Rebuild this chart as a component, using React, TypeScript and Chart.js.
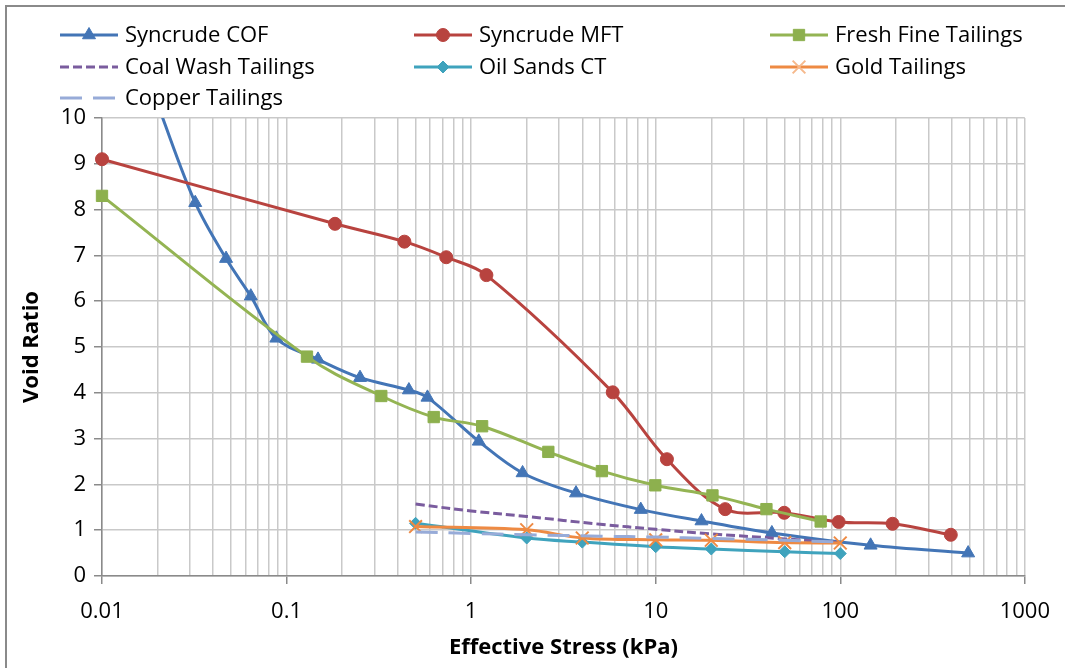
import React, { useEffect, useRef } from 'react';
import { Chart, registerables } from 'chart.js';
import { drawPoint } from 'chart.js/helpers';

Chart.register(...registerables);

// ---- Data (Effective stress in kPa, void ratio) ----
const cofStress = [0.02, 0.032, 0.047, 0.064, 0.088, 0.148, 0.25, 0.46, 0.58, 1.1, 1.9, 3.7, 8.3, 17.7, 42.6, 146, 493];
const cofVoid = [10.3, 8.15, 6.93, 6.11, 5.19, 4.73, 4.33, 4.06, 3.9, 2.94, 2.25, 1.81, 1.45, 1.2, 0.94, 0.67, 0.5];

const mftStress = [0.01, 0.183, 0.435, 0.733, 1.21, 5.85, 11.5, 23.8, 49.7, 98, 192, 397];
const mftVoid = [9.1, 7.69, 7.3, 6.96, 6.57, 4.01, 2.55, 1.46, 1.38, 1.18, 1.14, 0.9];

const fftStress = [0.01, 0.129, 0.326, 0.627, 1.147, 2.62, 5.11, 9.95, 20.3, 39.8, 78.3];
const fftVoid = [8.3, 4.79, 3.93, 3.47, 3.27, 2.71, 2.29, 1.98, 1.76, 1.46, 1.19];

const coalStress = [0.5, 1, 2, 5, 10, 20, 50, 100];
const coalVoid = [1.57, 1.42, 1.3, 1.13, 1.02, 0.92, 0.81, 0.73];

const ctStress = [0.5, 2, 4, 10, 20, 50, 100];
const ctVoid = [1.15, 0.83, 0.74, 0.64, 0.59, 0.53, 0.49];

const goldStress = [0.5, 2, 4, 10, 20, 50, 100];
const goldVoid = [1.08, 1.01, 0.83, 0.79, 0.78, 0.73, 0.72];

const copperStress = [0.5, 1, 2, 5, 10, 20, 50, 100];
const copperVoid = [0.96, 0.93, 0.9, 0.87, 0.85, 0.82, 0.78, 0.74];

const seriesLabels = [
  'Syncrude COF',
  'Syncrude MFT',
  'Fresh Fine Tailings',
  'Coal Wash Tailings',
  'Oil Sands CT',
  'Gold Tailings',
  'Copper Tailings',
];

const xMajorTicks = [0.01, 0.1, 1, 10, 100, 1000];
const xMajorLabels = ['0.01', '0.1', '1', '10', '100', '1000'];
const yTickLabels = ['0', '1', '2', '3', '4', '5', '6', '7', '8', '9', '10'];

const FONT = "'Open Sans', sans-serif";
const W = 1065;
const H = 668;

const pts = (xs: number[], ys: number[]) => xs.map((x, i) => ({ x, y: ys[i] }));

const isMajor = (v: number) => xMajorTicks.some((m) => Math.abs(v - m) / m < 1e-6);
const majorLabel = (v: number) => {
  const i = xMajorTicks.findIndex((m) => Math.abs(v - m) / m < 1e-6);
  return i >= 0 ? xMajorLabels[i] : '';
};

const allXTicks: number[] = [];
for (let d = 0; d < xMajorTicks.length - 1; d++) {
  for (let k = 1; k <= 9; k++) allXTicks.push(+(xMajorTicks[d] * k).toPrecision(6));
}
allXTicks.push(xMajorTicks[xMajorTicks.length - 1]);

const legendPlugin = {
  id: 'excelLegend',
  afterDraw(chart: any) {
    const ctx = chart.ctx as CanvasRenderingContext2D;
    const cols = [60, 414, 770];
    const rows = [35, 67, 98];
    ctx.save();
    chart.data.datasets.forEach((ds: any, i: number) => {
      const lx = cols[i % 3];
      const ly = rows[Math.floor(i / 3)];
      ctx.strokeStyle = ds.borderColor;
      ctx.lineWidth = 3;
      ctx.lineCap = 'butt';
      ctx.setLineDash(ds.borderDash || []);
      ctx.beginPath();
      ctx.moveTo(lx, ly);
      ctx.lineTo(lx + 58, ly);
      ctx.stroke();
      ctx.setLineDash([]);
      if (ds.pointRadius > 0) {
        ctx.fillStyle = ds.pointBackgroundColor;
        ctx.strokeStyle = ds.legendMarkerColor || ds.pointBorderColor;
        ctx.lineWidth = ds.pointBorderWidth;
        drawPoint(ctx, { pointStyle: ds.pointStyle, radius: ds.pointRadius, borderWidth: ds.pointBorderWidth, rotation: 0 } as any, lx + 29, ly);
      }
      ctx.fillStyle = '#000';
      ctx.font = `22px ${FONT}`;
      ctx.textBaseline = 'middle';
      ctx.textAlign = 'left';
      ctx.fillText(ds.label, lx + 65, ly + 1);
    });
    ctx.restore();
  },
};

export default function App() {
  const ref = useRef<HTMLCanvasElement>(null);

  useEffect(() => {
    if (!ref.current) return;
    const common = { tension: 0.35, borderWidth: 3, pointBorderWidth: 1 };
    const chart = new Chart(ref.current, {
      type: 'line',
      data: {
        datasets: [
          {
            ...common,
            label: seriesLabels[0],
            data: pts(cofStress, cofVoid),
            borderColor: '#4375B6',
            pointStyle: 'triangle',
            pointRadius: 7.5,
            pointBackgroundColor: '#4375B6',
            pointBorderColor: '#4375B6',
            order: 7,
            clip: { left: 10, top: 0, right: 10, bottom: 10 },
          },
          {
            ...common,
            label: seriesLabels[1],
            data: pts(mftStress, mftVoid),
            borderColor: '#B8433F',
            pointStyle: 'circle',
            pointRadius: 6.5,
            pointBackgroundColor: '#B8433F',
            pointBorderColor: '#B8433F',
            order: 6,
            clip: false,
          },
          {
            ...common,
            label: seriesLabels[2],
            data: pts(fftStress, fftVoid),
            borderColor: '#94B453',
            pointStyle: 'rect',
            pointRadius: 8,
            pointBackgroundColor: '#8DB04E',
            pointBorderColor: '#8DB04E',
            order: 5,
            clip: false,
          },
          {
            ...common,
            label: seriesLabels[3],
            data: pts(coalStress, coalVoid),
            borderColor: '#7A5C9E',
            borderDash: [9, 4],
            pointRadius: 0,
            order: 4,
            clip: false,
          },
          {
            ...common,
            label: seriesLabels[4],
            data: pts(ctStress, ctVoid),
            borderColor: '#3FA3BD',
            pointStyle: 'rectRot',
            pointRadius: 6,
            pointBackgroundColor: '#3FA3BD',
            pointBorderColor: '#3FA3BD',
            order: 3,
            clip: false,
          },
          {
            ...common,
            label: seriesLabels[5],
            data: pts(goldStress, goldVoid),
            borderColor: '#EE8A43',
            pointStyle: 'crossRot',
            pointRadius: 9,
            pointBackgroundColor: '#EE8A43',
            pointBorderColor: '#EE8A43',
            pointBorderWidth: 2,
            legendMarkerColor: '#F6B98C',
            order: 2,
            clip: false,
          },
          {
            ...common,
            label: seriesLabels[6],
            data: pts(copperStress, copperVoid),
            borderColor: '#97ABD8',
            borderDash: [22, 11],
            pointRadius: 0,
            order: 1,
            clip: false,
          },
        ] as any,
      },
      options: {
        responsive: false,
        animation: false,
        devicePixelRatio: 1,
        layout: { padding: { top: 118, left: 0, right: 35, bottom: 0 } },
        plugins: { legend: { display: false }, tooltip: { enabled: false } },
        scales: {
          x: {
            type: 'logarithmic',
            min: 0.01,
            max: 1000,
            afterBuildTicks: (s: any) => {
              s.ticks = allXTicks.map((v) => ({ value: v, major: false }));
            },
            afterFit: (s: any) => {
              s.height = H - 576;
            },
            ticks: {
              autoSkip: false,
              maxRotation: 0,
              minRotation: 0,
              padding: 15,
              color: '#000',
              font: { family: FONT, size: 22 },
              callback: (v: any) => majorLabel(Number(v)),
            },
            grid: {
              color: '#c9c9c9',
              lineWidth: 1.5,
              tickLength: 8,
              tickWidth: 1.5,
              tickColor: (c: any) => (c.tick && isMajor(c.tick.value) ? '#8a8a8a' : 'rgba(0,0,0,0)'),
            },
            border: { color: '#8a8a8a', width: 1.5 },
            title: {
              display: true,
              text: 'Effective Stress (kPa)',
              color: '#000',
              font: { family: FONT, size: 22, weight: 'bold' },
              padding: { top: 0, bottom: 7 },
            },
          },
          y: {
            type: 'linear',
            min: 0,
            max: 10,
            afterFit: (s: any) => {
              s.width = 102;
            },
            ticks: {
              stepSize: 1,
              padding: 8,
              color: '#000',
              font: { family: FONT, size: 22 },
              callback: (v: any) => yTickLabels[Math.round(Number(v))] ?? String(v),
            },
            grid: { color: '#c9c9c9', lineWidth: 1.5, tickLength: 8, tickWidth: 1.5, tickColor: '#8a8a8a' },
            border: { color: '#8a8a8a', width: 1.5 },
            title: {
              display: true,
              text: 'Void Ratio',
              color: '#000',
              font: { family: FONT, size: 22, weight: 'bold' },
              padding: { top: 19, bottom: 0 },
            },
          },
        },
      } as any,
      plugins: [legendPlugin],
    });
    return () => chart.destroy();
  }, []);

  return (
    <div style={{ position: 'fixed', left: 0, top: 0, width: W, height: H, overflow: 'hidden', background: '#fff' }}>
      <canvas ref={ref} width={W} height={H} style={{ position: 'absolute', left: 0, top: 0, width: W, height: H }} />
      <div
        style={{
          position: 'absolute',
          left: 5,
          top: 5,
          width: W + 40,
          height: H + 40,
          border: '2px solid #8a8a8a',
          pointerEvents: 'none',
        }}
      />
    </div>
  );
}
